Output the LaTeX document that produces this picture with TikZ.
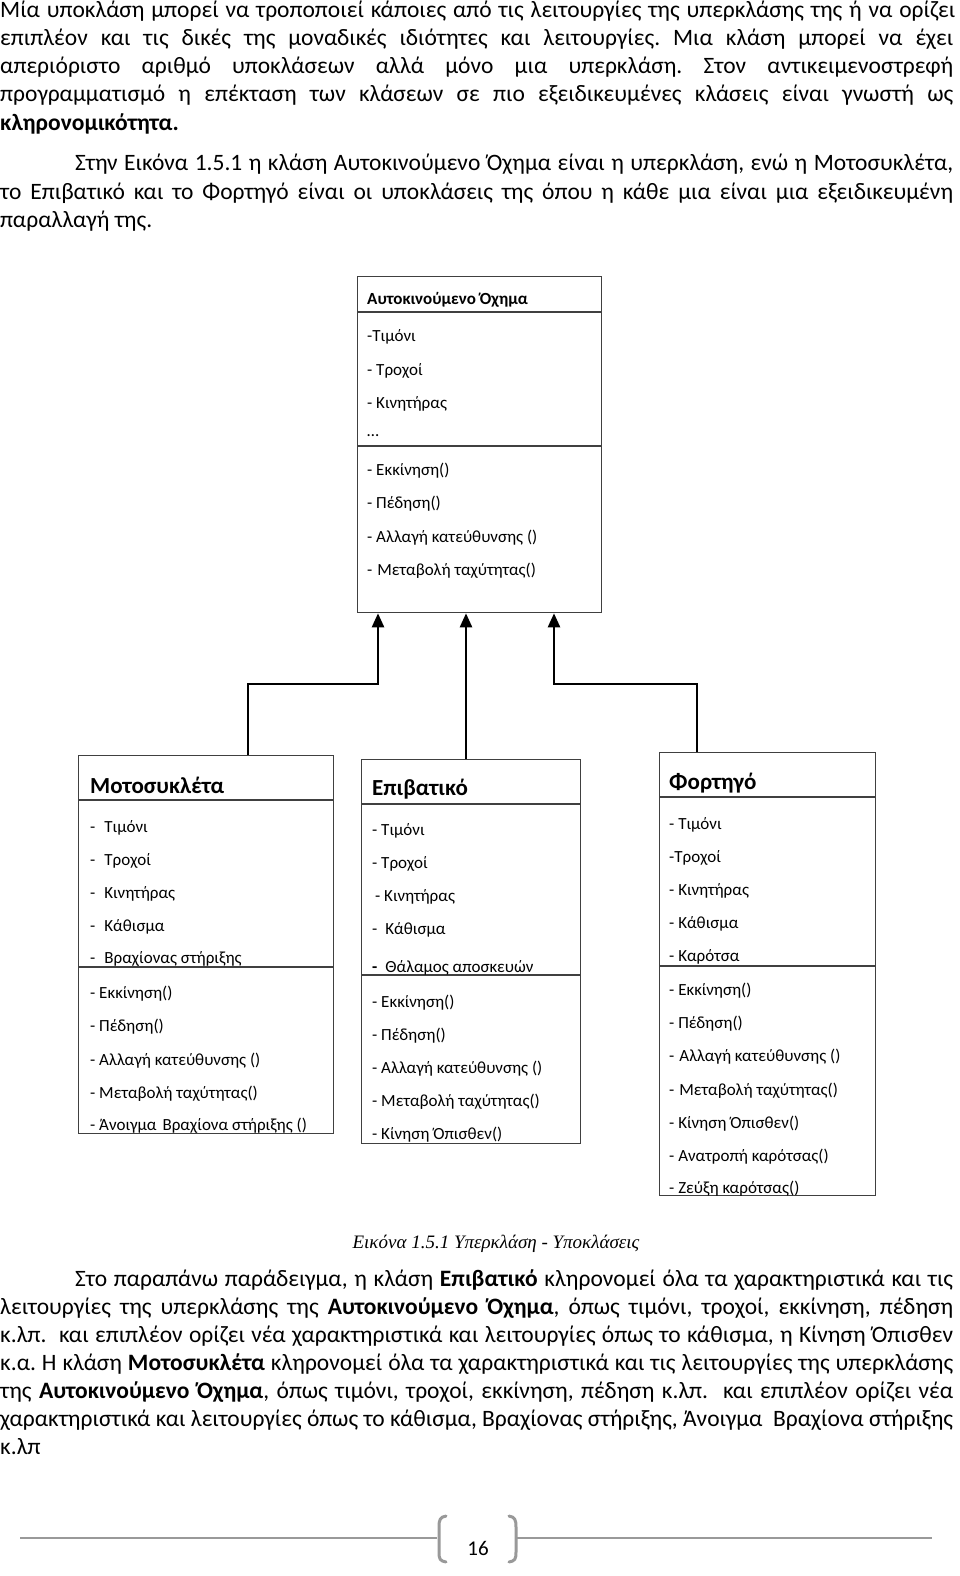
\documentclass[tikz,border=0pt]{standalone}
\usepackage{fontspec}
\setmainfont{Carlito}
\newfontfamily\capfont{Liberation Serif}
\usetikzlibrary{arrows.meta}
\frenchspacing
\begin{document}
\begin{tikzpicture}[x=1pt,y=-1pt,
 umlbox/.style={draw=black!75, line width=1.3pt, inner sep=0pt, anchor=north west},
 sepline/.style={draw=black!75, line width=1.3pt},
 item/.style={anchor=west, inner sep=0pt, font=\fontsize{17}{20}\selectfont},
 ttl/.style={anchor=west, inner sep=0pt, font=\fontsize{23}{26}\selectfont\bfseries},
 ttlsmall/.style={anchor=west, inner sep=0pt, font=\fontsize{17}{20}\selectfont\bfseries},
 body/.style={anchor=base west, inner sep=0pt, font=\fontsize{23.5}{28}\selectfont},
 inh/.style={line width=2.4pt, -{Triangle[width=12pt,length=14pt]}},
 foot/.style={draw=black!40, line width=2pt},
 brk/.style={draw=black!40, line width=3pt, line cap=round}]

\useasboundingbox (0,0) rectangle (960,1576);
\fill[white] (0,0) rectangle (960,1576);

% ---------- paragraph 1 ----------
\node[body] (p1a) at (0,18) {\makebox[955pt][s]{Μία υποκλάση μπορεί να τροποποιεί κάποιες από τις λειτουργίες της υπερκλάσης της ή να ορίζει}};
\node[body] (p1b) at (0,46) {\makebox[953pt][s]{επιπλέον και τις δικές της μοναδικές ιδιότητες και λειτουργίες. Μια κλάση μπορεί να έχει}};
\node[body] (p1c) at (0,74) {\makebox[953pt][s]{απεριόριστο αριθμό υποκλάσεων αλλά μόνο μια υπερκλάση. Στον αντικειμενοστρεφή}};
\node[body] (p1d) at (0,102) {\makebox[953pt][s]{προγραμματισμό η επέκταση των κλάσεων σε πιο εξειδικευμένες κλάσεις είναι γνωστή ως}};
\node[body] (p1e) at (0,131) {\textbf{κληρονομικότητα.}};

% ---------- paragraph 2 ----------
\node[body] (p2a) at (75,170) {\makebox[878pt][s]{Στην Εικόνα 1.5.1 η κλάση Αυτοκινούμενο Όχημα είναι η υπερκλάση, ενώ η Μοτοσυκλέτα,}};
\node[body] (p2b) at (0,199) {\makebox[953pt][s]{το Επιβατικό και το Φορτηγό είναι οι υποκλάσεις της όπου η κάθε μια είναι μια εξειδικευμένη}};
\node[body] (p2c) at (0,227) {παραλλαγή της.};

% ---------- boxes ----------
\node[umlbox, minimum width=244pt, minimum height=336pt] (sup) at (357,276) {};
\node[umlbox, minimum width=255pt, minimum height=378pt] (moto) at (78,755) {};
\node[umlbox, minimum width=219pt, minimum height=384pt] (epi) at (361,759) {};
\node[umlbox, minimum width=216pt, minimum height=443pt] (fort) at (659,752) {};

\draw[sepline] (sup.west |- 0,312) -- (sup.east |- 0,312);
\draw[sepline] (sup.west |- 0,446) -- (sup.east |- 0,446);
\draw[sepline] (moto.west |- 0,800) -- (moto.east |- 0,800);
\draw[sepline] (moto.west |- 0,967) -- (moto.east |- 0,967);
\draw[sepline] (epi.west |- 0,804) -- (epi.east |- 0,804);
\draw[sepline] (epi.west |- 0,975) -- (epi.east |- 0,975);
\draw[sepline] (fort.west |- 0,797) -- (fort.east |- 0,797);
\draw[sepline] (fort.west |- 0,966) -- (fort.east |- 0,966);

% titles
\node[ttlsmall] (supT) at (367,300) {Αυτοκινούμενο Όχημα};
\node[ttl] (motoT) at (90,785) {Μοτοσυκλέτα};
\node[ttl] (epiT) at (372,789) {Επιβατικό};
\node[ttl] (fortT) at (669,783) {Φορτηγό};

% superclass items
\foreach \t/\y [count=\i] in {{-Τιμόνι}/337, {- Τροχοί}/371, {- Κινητήρας}/404, {…}/436,
  {- Εκκίνηση()}/471, {- Πέδηση()}/504, {- Αλλαγή κατεύθυνσης ()}/538, {-\hspace{5pt}Μεταβολή ταχύτητας()}/571}
  \node[item] (supI\i) at (367,\y) {\t};

% motorcycle items
\foreach \t/\y [count=\i] in {{-\hspace{9pt}Τιμόνι}/828, {-\hspace{9pt}Τροχοί}/861, {-\hspace{9pt}Κινητήρας}/894,
  {-\hspace{9pt}Κάθισμα}/927, {-\hspace{9pt}Βραχίονας στήριξης}/959,
  {- Εκκίνηση()}/994, {- Πέδηση()}/1027, {- Αλλαγή κατεύθυνσης ()}/1061,
  {- Μεταβολή ταχύτητας()}/1094, {- Άνοιγμα\hspace{6pt}Βραχίονα στήριξης ()}/1126}
  \node[item] (motoI\i) at (90,\y) {\t};

% passenger car items
\foreach \t/\y [count=\i] in {{- Τιμόνι}/831, {- Τροχοί}/864, {\hspace{3pt}- Κινητήρας}/897,
  {-\hspace{8pt}Κάθισμα}/930, {\textbf{-}\hspace{8pt}Θάλαμος αποσκευών}/968,
  {- Εκκίνηση()}/1003, {- Πέδηση()}/1036, {- Αλλαγή κατεύθυνσης ()}/1069,
  {- Μεταβολή ταχύτητας()}/1102, {- Κίνηση Όπισθεν()}/1135}
  \node[item] (epiI\i) at (372,\y) {\t};

% truck items
\foreach \t/\y [count=\i] in {{- Τιμόνι}/825, {-Τροχοί}/858, {- Κινητήρας}/891,
  {- Κάθισμα}/924, {- Καρότσα}/957,
  {- Εκκίνηση()}/991, {- Πέδηση()}/1024, {-\hspace{5pt}Αλλαγή κατεύθυνσης ()}/1057,
  {-\hspace{5pt}Μεταβολή ταχύτητας()}/1091, {- Κίνηση Όπισθεν()}/1124,
  {- Ανατροπή καρότσας()}/1157, {- Ζεύξη καρότσας()}/1189}
  \node[item] (fortI\i) at (669,\y) {\t};

% ---------- inheritance arrows ----------
\coordinate (k1) at (248,684);
\coordinate (k1b) at (378,684);
\coordinate (k2) at (466,684);
\coordinate (k3) at (697,684);
\coordinate (k3b) at (554,684);
\draw[inh] (moto.north -| k1) -- (k1) -- (k1b) -- (sup.south -| k1b);
\draw[inh] (epi.north -| k2) -- (sup.south -| k2);
\draw[inh] (fort.north -| k3) -- (k3) -- (k3b) -- (sup.south -| k3b);

% ---------- caption ----------
\node[anchor=base, inner sep=0pt, font=\capfont\itshape\fontsize{19}{22}\selectfont] (cap) at (496,1248) {Εικόνα 1.5.1 Υπερκλάση - Υποκλάσεις};

% ---------- paragraph 3 ----------
\node[body] (p3a) at (75,1286) {\makebox[878pt][s]{Στο παραπάνω παράδειγμα, η κλάση \textbf{Επιβατικό} κληρονομεί όλα τα χαρακτηριστικά και τις}};
\node[body] (p3b) at (0,1314) {\makebox[953pt][s]{λειτουργίες της υπερκλάσης της \textbf{Αυτοκινούμενο Όχημα}, όπως τιμόνι, τροχοί, εκκίνηση, πέδηση}};
\node[body] (p3c) at (0,1342) {\makebox[953pt][s]{κ.λπ.\ \ και επιπλέον ορίζει νέα χαρακτηριστικά και λειτουργίες όπως το κάθισμα, η Κίνηση Όπισθεν}};
\node[body] (p3d) at (0,1370) {\makebox[953pt][s]{κ.α. Η κλάση \textbf{Μοτοσυκλέτα} κληρονομεί όλα τα χαρακτηριστικά και τις λειτουργίες της υπερκλάσης}};
\node[body] (p3e) at (0,1398) {\makebox[953pt][s]{της \textbf{Αυτοκινούμενο Όχημα}, όπως τιμόνι, τροχοί, εκκίνηση, πέδηση κ.λπ.\ \ και επιπλέον ορίζει νέα}};
\node[body] (p3f) at (0,1426) {\makebox[953pt][s]{χαρακτηριστικά και λειτουργίες όπως το κάθισμα, Βραχίονας στήριξης, Άνοιγμα\ \ Βραχίονα στήριξης}};
\node[body] (p3g) at (0,1454) {κ.λπ};

% ---------- footer ----------
\draw[foot] (20,1538) -- (437,1538);
\draw[foot] (517,1538) -- (932,1538);
\draw[brk] (446,1516) .. controls (440,1517) and (439,1520) .. (439,1527) -- (439,1552) .. controls (439,1559) and (440,1561) .. (446,1562);
\draw[brk] (509,1516) .. controls (515,1517) and (516,1520) .. (516,1527) -- (516,1552) .. controls (516,1559) and (515,1561) .. (509,1562);
\node[inner sep=0pt, font=\fontsize{21}{24}\selectfont] (pg) at (478,1548) {16};
\end{tikzpicture}
\end{document}
